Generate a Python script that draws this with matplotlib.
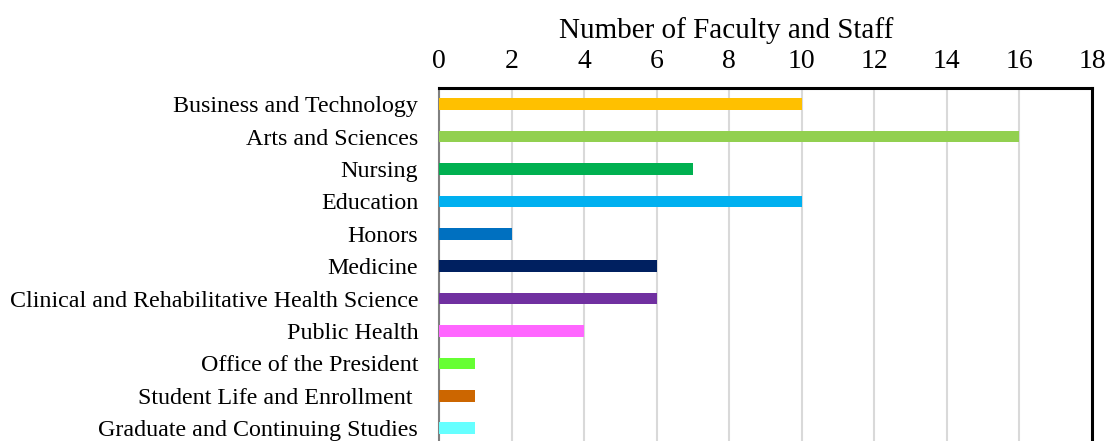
import numpy as np
import matplotlib.pyplot as plt

categories = ['Business and Technology', 'Arts and Sciences', 'Nursing', 'Education',
              'Honors', 'Medicine', 'Clinical and Rehabilitative Health Science',
              'Public Health', 'Office of the President', 'Student Life and Enrollment ',
              'Graduate and Continuing Studies']
counts = [10, 16, 7, 10, 2, 6, 6, 4, 1, 1, 1]
colors = ['#FFC000', '#92D050', '#00B050', '#00B0F0', '#0070C0', '#002060',
          '#7030A0', '#FF66FF', '#66FF33', '#CC6600', '#66FFFF']

plt.rcParams['font.family'] = ['Liberation Serif', 'DejaVu Serif']

fig = plt.figure(figsize=(11.08, 4.41), dpi=100)
ax = fig.add_axes([0.3962, -0.0445, 0.5894, 0.845])

y = np.arange(len(categories))
ax.barh(y, counts, height=0.36, color=colors, zorder=3)

ax.set_xlim(0, 18)
ax.set_ylim(11.0, -0.5)
ax.set_xticks(range(0, 19, 2))
ax.set_yticks(y)
ax.set_yticklabels(categories, fontsize=17.3)
ax.xaxis.tick_top()
ax.tick_params(axis='x', labelsize=20, length=0, pad=10)
ax.tick_params(axis='y', length=0, pad=15)
ax.xaxis.grid(True, color='#d9d9d9', linewidth=1.5, zorder=0)
ax.set_axisbelow(True)

ax.spines['top'].set_color('black')
ax.spines['top'].set_linewidth(2.2)
ax.spines['right'].set_color('black')
ax.spines['right'].set_linewidth(2.2)
ax.spines['left'].set_color('#808080')
ax.spines['left'].set_linewidth(1.5)
ax.spines['bottom'].set_visible(False)

fig.text(0.6552, 0.93, 'Number of Faculty and Staff', ha='center', va='center', fontsize=21)

fig.savefig('out.png', dpi=100)
